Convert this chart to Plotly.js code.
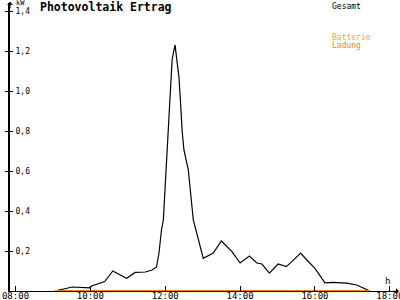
<!DOCTYPE html>
<html>
<head>
<meta charset="utf-8">
<script src="https://cdn.plot.ly/plotly-3.0.1.min.js"></script>
<style>html,body{margin:0;padding:0;background:#fff;}#chart{width:400px;height:300px;}</style>
</head>
<body>
<div id="chart"></div>
<script>
// ---- data ----
var day = "2024-06-01 ";
var gesamtTimes = ["09:03","09:31","09:59","10:02","10:23","10:36","10:45","10:58","11:12","11:28","11:39","11:46","11:50","11:54","11:57",
  "12:03","12:06","12:09","12:11","12:14","12:16","12:17","12:19","12:22","12:25","12:27","12:30","12:37","12:45","12:53","13:01",
  "13:17","13:30","13:47","14:00","14:15","14:27","14:35","14:47","15:01","15:14","15:23","15:37","15:47","16:00","16:16","16:29",
  "16:51","17:07","17:28"];
var gesamtValues = [0.0,0.02,0.016,0.025,0.047,0.10,0.085,0.064,0.093,0.095,0.105,0.12,0.19,0.305,0.355,
  0.705,0.92,1.105,1.155,1.205,1.23,1.197,1.14,1.07,0.92,0.805,0.705,0.605,0.355,0.255,0.163,
  0.19,0.25,0.197,0.14,0.175,0.14,0.135,0.089,0.135,0.122,0.147,0.19,0.155,0.113,0.041,0.043,
  0.039,0.03,0.0];
var ladungTimes = ["09:03","17:28"];
var ladungValues = [0, 0];
var batterieTimes = [];
var batterieValues = [];

var seriesNames = ["Gesamt","Batterie","Ladung"];
var seriesColors = ["#000000","#FFA800","#FF8000"];

var xTickTimes = ["08:00","10:00","12:00","14:00","16:00","18:00"];
var xTickLabels = ["08:00","10:00","12:00","14:00","16:00","18:00"];
var yTickVals = [0.2,0.4,0.6,0.8,1.0,1.2,1.4];
var yTickLabels = ["0,2","0,4","0,6","0,8","1,0","1,2","1,4"];

var titleText = "Photovoltaik Ertrag";
var yUnit = "kW";
var xUnit = "h";

function ts(a){ return a.map(function(t){ return day + t; }); }

var mono = "DejaVu Sans Mono";
var traces = [
  {x: ts(gesamtTimes), y: gesamtValues, type: "scatter", mode: "lines", name: seriesNames[0],
   line: {color: seriesColors[0], width: 1.2}, hoverinfo: "skip"},
  {x: ts(batterieTimes), y: batterieValues, type: "scatter", mode: "lines", name: seriesNames[1],
   line: {color: seriesColors[1], width: 1.5}, hoverinfo: "skip"},
  {x: ts(ladungTimes), y: ladungValues, type: "scatter", mode: "lines", name: seriesNames[2],
   line: {color: seriesColors[2], width: 1.8}, hoverinfo: "skip"},
  {x: [day + "12:00"], y: [null], yaxis: "y2", type: "scatter", mode: "lines", showlegend: false, hoverinfo: "skip"},
  {x: [day + "12:00"], y: [null], yaxis: "y3", type: "scatter", mode: "lines", showlegend: false, hoverinfo: "skip"}
];

// legend text tops in pixels
var legendTop = [0, 31, 39];
var H = 288, T = 3;
function py(p){ return 1 - (p - T)/H; }
var anns = seriesNames.map(function(n, i){
  return {text: n, xref: "paper", yref: "paper", x: (330-10)/388, y: py(legendTop[i]),
    xanchor: "left", yanchor: "top", showarrow: false, font: {family: mono, size: 8, color: seriesColors[i]}};
});
anns.push({text: yUnit, xref: "paper", yref: "paper", x: 4/388, y: py(9), xanchor: "left", yanchor: "bottom",
  showarrow: false, font: {family: mono, size: 7, color: "#000"}});
anns.push({text: xUnit, xref: "paper", yref: "paper", x: (387-10)/388, y: py(281), xanchor: "center", yanchor: "middle",
  showarrow: false, font: {family: mono, size: 9, color: "#000"}});
// axis arrows
anns.push({text: "", xref: "paper", yref: "paper", x: 0, y: 1.004, ax: 0, ay: 8, showarrow: true,
  arrowhead: 1, arrowsize: 1, arrowwidth: 1, arrowcolor: "#000"});
anns.push({text: "", xref: "paper", yref: "paper", x: 1.003, y: -0.001, ax: -8, ay: 0, showarrow: true,
  arrowhead: 1, arrowsize: 1, arrowwidth: 1, arrowcolor: "#000"});

var xr = [day + "07:51:11", day + "18:13:08"];
var yr = [0, 1.44];
var layout = {
  width: 400, height: 300,
  margin: {l: 10, r: 2, t: 3, b: 9, pad: 0},
  paper_bgcolor: "#fff", plot_bgcolor: "#fff",
  showlegend: false,
  title: {text: titleText, xref: "container", yref: "container", x: 40/400, xanchor: "left",
    y: 1 - 3/300, yanchor: "top", pad: {t: 0, b: 0, l: 0, r: 0},
    font: {family: mono, size: 11.5, weight: "bold", color: "#000"}},
  xaxis: {type: "date", range: xr, showgrid: false, zeroline: false, showline: true, linecolor: "#000", linewidth: 1,
    tickmode: "array", tickvals: ts(xTickTimes), ticktext: xTickLabels, ticks: "inside", ticklen: 5, tickwidth: 1,
    tickcolor: "#000", ticklabeloverflow: "allow", ticklabelstandoff: -4,
    tickfont: {family: mono, size: 9, color: "#000"}, fixedrange: true},
  // main y axis: line + outward half of the crossing ticks
  yaxis: {range: yr, showgrid: false, zeroline: false, showline: true, linecolor: "#000", linewidth: 2,
    tickmode: "array", tickvals: yTickVals, ticktext: yTickLabels, ticks: "outside", ticklen: 3, tickwidth: 1,
    tickcolor: "#000", showticklabels: false, fixedrange: true},
  // inward half of the crossing ticks
  yaxis2: {range: yr, overlaying: "y", anchor: "x", side: "left", showgrid: false, zeroline: false, showline: false,
    tickmode: "array", tickvals: yTickVals, ticktext: yTickLabels, showticklabels: false,
    ticks: "inside", ticklen: 3, tickwidth: 1, tickcolor: "#000", fixedrange: true},
  // tick labels, right of the axis line
  yaxis3: {range: yr, overlaying: "y", anchor: "free", position: 20/388, side: "left", showgrid: false,
    zeroline: false, showline: false, ticks: "", tickmode: "array", tickvals: yTickVals, ticktext: yTickLabels,
    tickfont: {family: mono, size: 8, color: "#000"}, fixedrange: true},
  annotations: anns
};
Plotly.newPlot("chart", traces, layout, {staticPlot: true, displayModeBar: false});
</script>
</body>
</html>
